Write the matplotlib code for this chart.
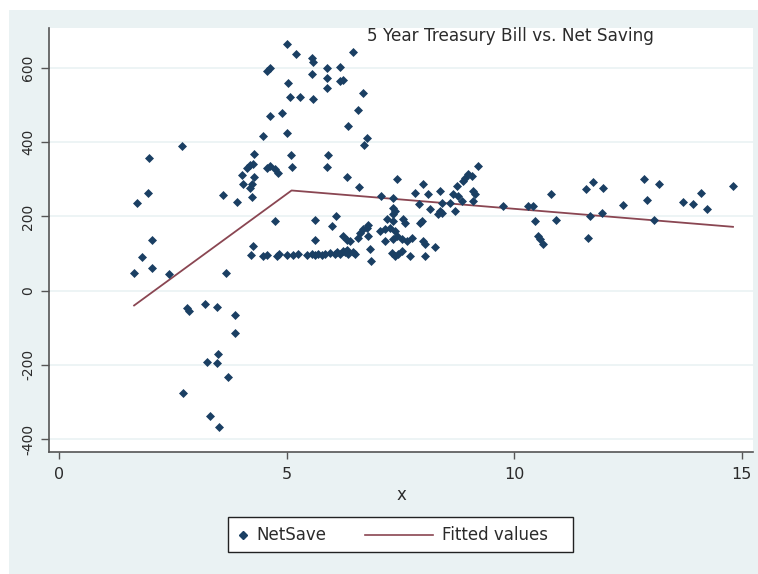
import matplotlib.pyplot as plt
from matplotlib.patches import Rectangle
from matplotlib.lines import Line2D

# 5-year treasury bill rate vs. net saving
rate = [
    1.65, 1.71, 1.82, 1.96, 1.98, 2.04, 2.04, 2.42, 2.70,
    2.73, 2.81, 2.86, 3.21, 3.25, 3.32, 3.47, 3.47, 3.49, 3.52, 3.71, 3.87, 3.87,
    3.60, 3.67, 3.91,
    4.02, 4.04, 4.13, 4.20, 4.26, 4.29, 4.29, 4.24, 4.20, 4.24, 4.57,
    4.48, 4.57, 4.64, 4.64, 4.90, 5.01, 5.21, 5.56, 5.58, 5.56, 5.89, 5.89, 6.18, 6.18,
    6.24, 6.46, 5.03, 5.89, 6.68, 5.08, 5.30, 5.58, 6.58, 5.01, 6.35, 6.77, 6.70, 5.10,
    5.91, 4.64, 4.75, 4.81, 5.12, 5.89, 6.33, 6.59, 7.08, 7.43,
    4.75, 5.63, 6.09, 6.00, 5.63, 6.24, 6.33, 6.40, 6.84, 6.77, 6.79, 6.86, 4.26,
    4.22, 4.48, 4.57, 4.79, 4.84, 5.01, 5.14, 5.25, 5.45, 5.56, 5.63, 5.69, 5.78, 5.85,
    5.96, 6.07, 6.11, 6.18, 6.24, 6.29, 6.33, 6.35, 6.46, 6.51,
    6.57, 6.68, 6.62, 6.79, 7.05, 7.16, 7.21,
    7.34, 7.34, 7.38, 7.34, 7.34, 7.27, 7.38, 7.43, 7.34, 7.16, 7.32, 7.38, 7.45, 7.54,
    7.71, 7.56, 7.60, 7.54, 7.65, 7.76, 7.82, 8.00, 8.11, 7.91, 7.98, 7.93, 8.00, 8.04,
    8.04, 8.26, 8.15, 8.37, 8.42, 8.37, 8.33, 8.42, 8.59, 8.75, 8.77, 8.70, 8.66, 8.86,
    8.92, 8.99, 9.08, 8.88, 9.21, 9.10, 9.14, 9.10, 9.76, 10.31, 10.42, 10.46, 10.53,
    10.57, 10.64,
    10.81, 10.92, 11.58, 11.74, 11.96, 11.67, 11.63, 11.93, 12.40, 12.86, 12.92, 13.19,
    13.08, 13.71, 13.93, 14.11, 14.24, 14.81,
]
net_save = [
    48, 236, 91, 263, 357, 137, 62, 46, 389,
    -276, -46, -54, -35, -193, -338, -43, -196, -172, -368, -234, -67, -115,
    258, 48, 239,
    311, 287, 330, 338, 341, 368, 306, 287, 276, 252, 330,
    416, 591, 599, 470, 478, 666, 639, 626, 615, 585, 601, 574, 604, 564,
    569, 642, 561, 545, 534, 523, 521, 516, 486, 424, 443, 411, 392, 365,
    365, 336, 328, 317, 333, 333, 306, 279, 255, 301,
    188, 191, 201, 175, 137, 148, 137, 134, 113, 169, 177, 81, 121,
    96, 94, 97, 94, 99, 97, 95, 98, 96, 99, 95, 100, 97, 99,
    101, 100, 104, 98, 107, 103, 110, 100, 104, 99,
    142, 166, 156, 148, 161, 134, 193,
    250, 223, 215, 207, 188, 169, 161, 148, 140, 166, 102, 94, 99, 107,
    94, 193, 183, 140, 134, 142, 263, 287, 260, 234, 188, 183, 134, 126,
    94, 118, 220, 268, 236, 215, 207, 209, 236, 282, 255, 215, 260, 242,
    303, 314, 309, 295, 336, 268, 260, 242, 228, 228, 228, 188, 148,
    140, 126,
    260, 190, 274, 293, 276, 201, 142, 209, 231, 301, 244, 287,
    190, 239, 234, 263, 220, 282,
]

# piecewise linear fit (knot near 5.1)
fit_x = [1.65, 5.11, 14.81]
fit_y = [-40, 270, 172]

navy = '#1a3f63'
maroon = '#8a4652'
text_col = '#2b2b2b'
W, H = 758, 574

plt.rcParams['font.family'] = ['DejaVu Sans']
plt.rcParams['axes.unicode_minus'] = False

fig = plt.figure(figsize=(W / 100, H / 100), dpi=100, facecolor='white')
fig.patches.append(Rectangle((9 / W, 0), 1 - 9 / W, 1 - 10 / H,
                             transform=fig.transFigure, facecolor='#eaf2f3',
                             edgecolor='none', zorder=-5))

ax = fig.add_axes([49 / W, 1 - 452 / H, (753 - 49) / W, (452 - 28) / H])
ax.set_facecolor('white')

ax.scatter(rate, net_save, marker='D', s=21, color=navy, linewidths=0, zorder=3)
ax.plot(fit_x, fit_y, color=maroon, lw=1.3, zorder=2)

ax.set_xlim(-0.22, 15.25)
ax.set_ylim(-435, 708)
ax.set_xticks([0, 5, 10, 15])
ax.set_yticks([-400, -200, 0, 200, 400, 600])
ax.grid(axis='y', color='#eaf2f3', lw=1.2, zorder=0)
ax.set_axisbelow(True)

for side in ['top', 'right']:
    ax.spines[side].set_visible(False)
for side in ['left', 'bottom']:
    ax.spines[side].set_color('#555555')
    ax.spines[side].set_linewidth(1.2)

ax.tick_params(axis='x', length=5, width=1, color='#555555', labelsize=11.5,
               labelcolor=text_col, pad=6)
ax.tick_params(axis='y', length=6, width=1, color='#555555', labelsize=10,
               labelcolor=text_col, pad=4)
for lbl in ax.get_yticklabels():
    lbl.set_rotation(90)
    lbl.set_va('center')

ax.set_xlabel('x', fontsize=12, color=text_col, labelpad=3)

fig.text(367 / W, 1 - 36 / H, '5 Year Treasury Bill vs. Net Saving',
         fontsize=12.2, color=text_col, va='center', ha='left')

# legend box drawn by hand: marker sits right next to its label
def fx(px):
    return px / W

def fy(py):
    return 1 - py / H

fig.patches.append(Rectangle((fx(228), fy(552)), fx(573) - fx(228), fy(517) - fy(552),
                             transform=fig.transFigure, facecolor='white',
                             edgecolor='#222222', lw=1.0, zorder=5))
fig.lines.append(Line2D([fx(243)], [fy(534.5)], marker='D', markersize=4.2, ls='none',
                        color=navy, transform=fig.transFigure, zorder=6))
fig.lines.append(Line2D([fx(365), fx(433)], [fy(534.5), fy(534.5)], color=maroon,
                        lw=1.2, transform=fig.transFigure, zorder=6))
fig.text(fx(256), fy(535), 'NetSave', fontsize=12, color=text_col,
         va='center', ha='left', zorder=6)
fig.text(fx(442), fy(535), 'Fitted values', fontsize=12, color=text_col,
         va='center', ha='left', zorder=6)

fig.savefig('out.png', dpi=100, facecolor=fig.get_facecolor())
